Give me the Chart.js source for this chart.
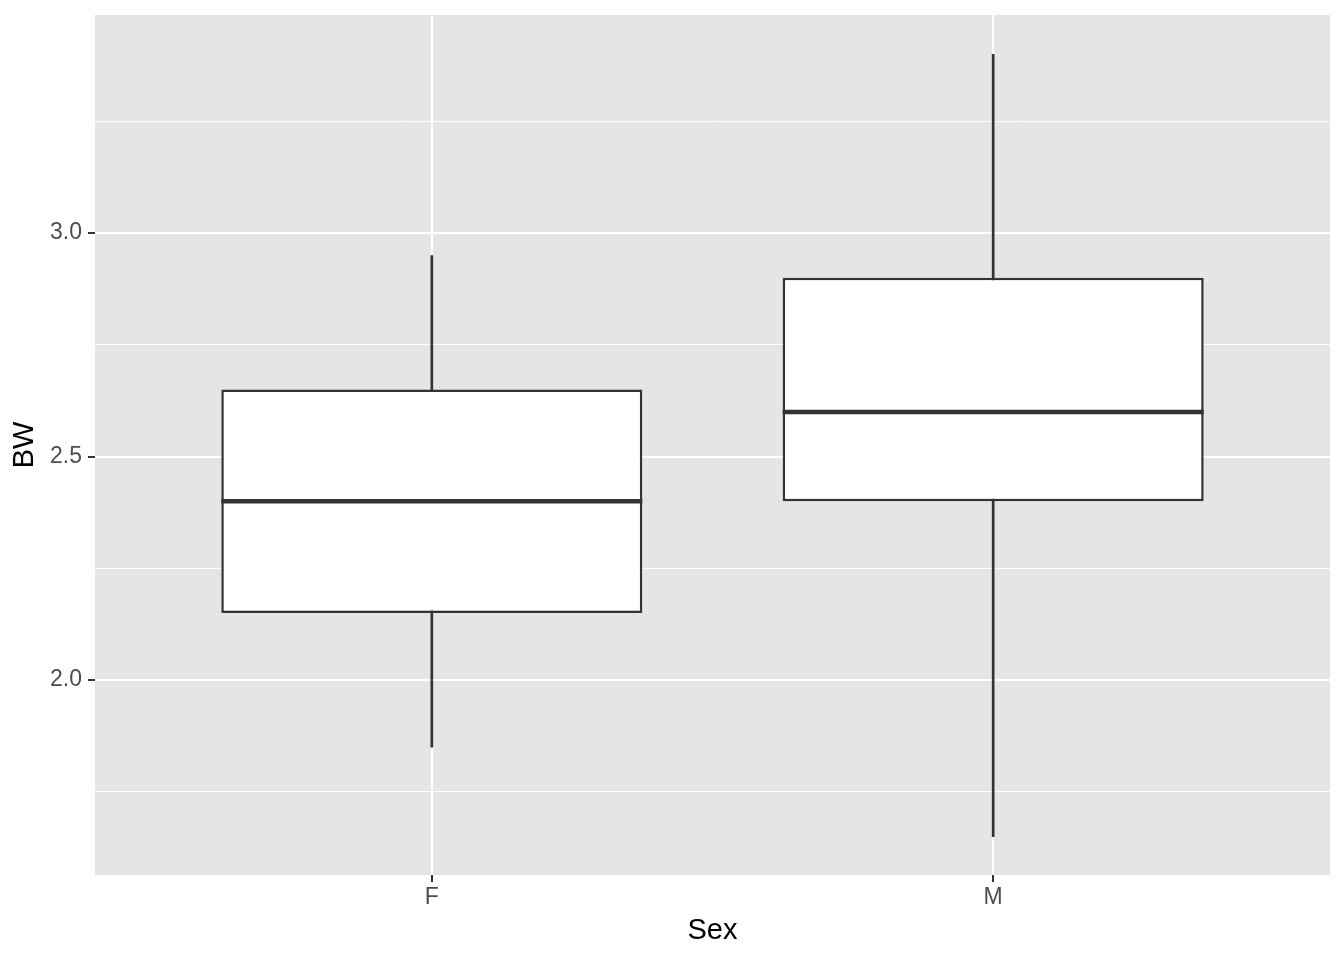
<!DOCTYPE html>
<html>
<head>
<meta charset="utf-8">
<script src="https://cdn.jsdelivr.net/npm/chart.js@4/dist/chart.umd.min.js"></script>
<style>
    html, body { margin: 0; padding: 0; background: #ffffff; }
    #wrap { width: 1344px; height: 960px; }
</style>
</head>
<body>
<div id="wrap"><canvas id="bwChart"></canvas></div>
<script>
// boxplot stats
const categories = ["F", "M"];
const whiskerLow = [1.85, 1.65];
const q1 = [2.15, 2.40];
const median = [2.40, 2.60];
const q3 = [2.65, 2.90];
const whiskerHigh = [2.95, 3.40];
const yTicks = [2.0, 2.5, 3.0];

const panelGrey = "#e5e5e5";
const ink = "#333333";

function isMajor(v) {
    return yTicks.some(t => Math.abs(t - v) < 1e-6);
}

const panelBackground = {
    id: "panelBackground",
    beforeDraw(chart) {
        const a = chart.chartArea;
        const ctx = chart.ctx;
        ctx.save();
        ctx.fillStyle = panelGrey;
        ctx.fillRect(a.left, a.top, a.right - a.left, a.bottom - a.top);
        ctx.restore();
    }
};

const medianLines = {
    id: "medianLines",
    afterDatasetsDraw(chart) {
        const meta = chart.getDatasetMeta(1);
        const y = chart.scales.y;
        const ctx = chart.ctx;
        ctx.save();
        ctx.strokeStyle = ink;
        ctx.lineWidth = 4.5;
        meta.data.forEach((bar, i) => {
            const py = y.getPixelForValue(median[i]);
            ctx.beginPath();
            ctx.moveTo(bar.x - bar.width / 2, py);
            ctx.lineTo(bar.x + bar.width / 2, py);
            ctx.stroke();
        });
        ctx.restore();
    }
};

const ctx = document.getElementById("bwChart").getContext("2d");

new Chart(ctx, {
    type: "bar",
    data: {
        datasets: [
            {
                label: "whisker",
                data: categories.map((c, i) => ({ x: i + 1, y: [whiskerLow[i], whiskerHigh[i]] })),
                backgroundColor: ink,
                borderWidth: 0,
                barThickness: 2,
                grouped: false,
                order: 2
            },
            {
                label: "box",
                data: categories.map((c, i) => ({ x: i + 1, y: [q1[i], q3[i]] })),
                backgroundColor: "#ffffff",
                borderColor: ink,
                borderWidth: 2.5,
                borderSkipped: false,
                barPercentage: 1,
                categoryPercentage: 0.75,
                grouped: false,
                order: 1
            }
        ]
    },
    options: {
        responsive: true,
        maintainAspectRatio: false,
        animation: false,
        layout: { padding: { top: 15, right: 14, left: 0, bottom: 0 } },
        plugins: {
            legend: { display: false },
            tooltip: { enabled: false }
        },
        scales: {
            x: {
                type: "linear",
                min: 0.4,
                max: 2.6,
                offset: false,
                border: { display: false },
                grid: {
                    offset: false,
                    color: "#ffffff",
                    lineWidth: 2,
                    tickColor: ink,
                    tickLength: 7,
                    tickWidth: 2
                },
                ticks: {
                    stepSize: 1,
                    includeBounds: false,
                    color: "#4d4d4d",
                    font: { family: "Liberation Sans", size: 23 },
                    padding: 2,
                    callback: v => categories[v - 1] || ""
                },
                title: {
                    display: true,
                    text: "Sex",
                    color: "#000000",
                    font: { family: "Liberation Sans", size: 29 },
                    padding: { top: 0, bottom: 12 }
                },
                afterFit(scale) {
                    scale.height = 85;
                    scale.paddingLeft = 0;
                    scale.paddingRight = 0;
                }
            },
            y: {
                min: 1.564,
                max: 3.488,
                border: { display: false },
                grid: {
                    color: "#ffffff",
                    lineWidth: c => isMajor(c.tick.value) ? 2 : 1,
                    tickColor: c => isMajor(c.tick.value) ? ink : "rgba(0,0,0,0)",
                    tickLength: 7,
                    tickWidth: 2
                },
                ticks: {
                    stepSize: 0.25,
                    includeBounds: false,
                    color: "#4d4d4d",
                    font: { family: "Liberation Sans", size: 23 },
                    padding: 6,
                    callback: v => isMajor(v) ? v.toFixed(1) : ""
                },
                title: {
                    display: true,
                    text: "BW",
                    color: "#000000",
                    font: { family: "Liberation Sans", size: 29 },
                    padding: { top: 8, bottom: 0 }
                },
                afterFit(scale) {
                    scale.width = 95;
                    scale.paddingTop = 0;
                    scale.paddingBottom = 0;
                }
            }
        }
    },
    plugins: [panelBackground, medianLines]
});
</script>
</body>
</html>
